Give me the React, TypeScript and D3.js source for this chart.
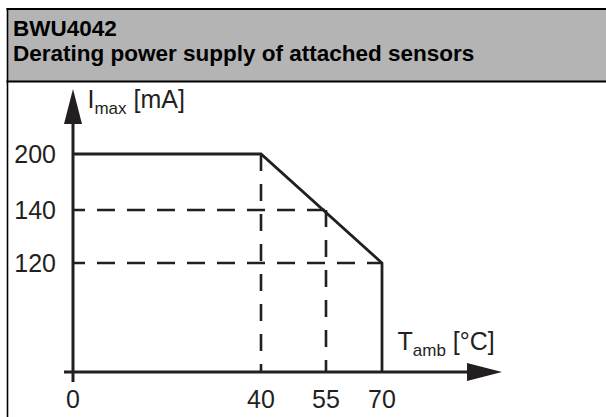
import React from 'react';
import * as d3 from 'd3';

const titleLines = ['BWU4042', 'Derating power supply of attached sensors'];
const xTicks = [0, 40, 55, 70];
const yTicks = [120, 140, 200];
const curveT = [0, 40, 70, 70];
const curveI = [200, 200, 120, 0];
const guideHI = [140, 120];
const guideHT = [55, 70];
const guideVT = [40, 55];
const guideVI = [200, 140];
const xLabelMain = 'T';
const xLabelSub = 'amb';
const xLabelUnit = ' [°C]';
const yLabelMain = 'I';
const yLabelSub = 'max';
const yLabelUnit = ' [mA]';

const W = 606;
const H = 417;
const INK = '#231f20';
const FONT = '"Liberation Sans", Arial, Helvetica, sans-serif';

export default function App() {
  // schematic (piecewise) scales as in the original drawing
  const x = d3.scaleLinear().domain([0, 40, 55, 70]).range([73, 261, 326, 382]);
  const y = d3.scaleLinear().domain([0, 120, 140, 200]).range([372, 263, 210, 154]);

  const line = d3
    .line<[number, number]>()
    .x((d) => x(d[0]))
    .y((d) => y(d[1]));

  const curvePts: [number, number][] = curveT.map((t, i) => [t, curveI[i]]);

  const x0 = x(0);
  const y0 = y(0);
  const xAxisStart = x0 - 9;
  const xAxisEnd = 502;
  const yAxisTop = 89;
  const yAxisBottom = y0 + 10;
  const arrowLen = 35;
  const arrowHalf = 9;

  return (
    <svg
      width={W}
      height={H}
      style={{ position: 'absolute', left: 0, top: 0, background: '#fff' }}
      fontFamily={FONT}
    >
      {/* header */}
      <rect x={7} y={9} width={W - 7} height={72} fill="#b4b4b4" />
      <line x1={6.5} x2={W} y1={9} y2={9} stroke="#000" strokeWidth={2.2} />
      <line x1={6.5} x2={W} y1={81.5} y2={81.5} stroke="#000" strokeWidth={2.2} />
      <line x1={7.5} x2={7.5} y1={8} y2={H} stroke="#000" strokeWidth={1.6} />
      {titleLines.map((t, i) => (
        <text key={t} x={13} y={35.5 + i * 25.5} fontSize={22.5} fontWeight="bold" fill="#000">
          {t}
        </text>
      ))}

      {/* dashed guides */}
      {guideHI.map((v, i) => (
        <path
          key={'h' + v}
          d={line([
            [0, v],
            [guideHT[i], v],
          ]) || ''}
          fill="none"
          stroke={INK}
          strokeWidth={2.6}
          strokeDasharray="18 12"
          strokeDashoffset={6}
        />
      ))}
      {guideVT.map((t, i) => (
        <path
          key={'v' + t}
          d={line([
            [t, guideVI[i]],
            [t, 0],
          ]) || ''}
          fill="none"
          stroke={INK}
          strokeWidth={2.6}
          strokeDasharray="17 13"
        />
      ))}

      {/* derating curve */}
      <path d={line(curvePts) || ''} fill="none" stroke={INK} strokeWidth={2.8} strokeLinejoin="miter" />

      {/* axes */}
      <line x1={xAxisStart} x2={xAxisEnd - arrowLen + 2} y1={y0} y2={y0} stroke={INK} strokeWidth={3} />
      <polygon
        points={`${xAxisEnd},${y0} ${xAxisEnd - arrowLen},${y0 - arrowHalf} ${xAxisEnd - arrowLen},${y0 + arrowHalf}`}
        fill={INK}
      />
      <line x1={x0} x2={x0} y1={yAxisBottom} y2={yAxisTop + arrowLen - 2} stroke={INK} strokeWidth={3} />
      <polygon
        points={`${x0},${yAxisTop} ${x0 - arrowHalf},${yAxisTop + arrowLen} ${x0 + arrowHalf},${yAxisTop + arrowLen}`}
        fill={INK}
      />

      {/* tick labels */}
      {yTicks.map((v) => (
        <text key={'yt' + v} x={56} y={y(v) + 9} fontSize={25} textAnchor="end" fill={INK}>
          {v}
        </text>
      ))}
      {xTicks.map((v) => (
        <text key={'xt' + v} x={x(v)} y={408} fontSize={25} textAnchor="middle" fill={INK}>
          {v}
        </text>
      ))}

      {/* axis labels */}
      <text x={87.5} y={108} fontSize={25} fill={INK}>
        {yLabelMain}
        <tspan fontSize={17} dy={6}>
          {yLabelSub}
        </tspan>
        <tspan dy={-6}>{yLabelUnit}</tspan>
      </text>
      <text x={397.5} y={350} fontSize={25} fill={INK}>
        {xLabelMain}
        <tspan fontSize={17} dy={6}>
          {xLabelSub}
        </tspan>
        <tspan dy={-6}>{xLabelUnit}</tspan>
      </text>
    </svg>
  );
}
